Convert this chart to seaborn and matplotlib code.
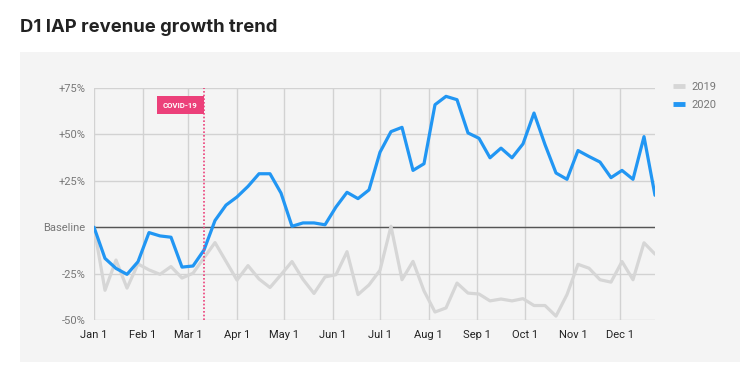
import pandas as pd
import numpy as np
import matplotlib
matplotlib.use('Agg')
import matplotlib.pyplot as plt
import matplotlib.dates as mdates
from matplotlib.lines import Line2D
from matplotlib.patches import Rectangle
import seaborn as sns

# Weekly growth vs baseline, in percent
weeks = pd.date_range('2020-01-01', periods=52, freq='7D')
growth_2019 = [0, -34, -17.7, -32.8, -19.8, -23, -25.4, -21.2, -27.4, -24.8, -16.5, -8.3,
               -18.4, -28.5, -20.7, -27.9, -32.5, -25.6, -18.5, -28.1, -35.7, -26.8, -25.6, -13.2,
               -36.3, -31.1, -23.2, 0.5, -28.3, -18.4, -34.3, -45.7, -43.5, -30.1, -35.5, -36,
               -39.7, -38.7, -39.7, -38.5, -42.2, -42.2, -47.9, -36.3, -20, -22.1, -28.3, -29.6,
               -18.5, -28.3, -8.4, -14.5]
growth_2020 = [0, -16.8, -22.2, -25.4, -18.6, -2.9, -4.7, -5.4, -21.5, -20.9, -12.3, 3.6,
               11.9, 16.3, 22, 28.8, 28.8, 18.4, 0.5, 2.3, 2.3, 1.3, 10.9, 18.8,
               15.4, 20.1, 40.4, 51.5, 53.8, 30.6, 34.2, 66, 70.5, 68.7, 50.8, 47.9,
               37.4, 42.6, 37.4, 44.9, 61.5, 44.5, 29.2, 25.8, 41.3, 38.1, 35.1, 26.7,
               30.6, 25.8, 48.8, 17.2]
years = ['2019', '2020']
colors = {'2019': '#d6d6d6', '2020': '#2196f3'}

month_ticks = pd.date_range('2020-01-01', periods=12, freq='MS')
month_labels = ['Jan 1', 'Feb 1', 'Mar 1', 'Apr 1', 'May 1', 'Jun 1',
                'Jul 1', 'Aug 1', 'Sep 1', 'Oct 1', 'Nov 1', 'Dec 1']
y_ticks = [-50, -25, 0, 25, 50, 75]
y_labels = ['-50%', '-25%', 'Baseline', '+25%', '+50%', '+75%']
covid_date = pd.Timestamp('2020-03-11')

df = pd.DataFrame({
    'date': list(weeks) * 2,
    'growth': growth_2019 + growth_2020,
    'year': ['2019'] * len(weeks) + ['2020'] * len(weeks),
})

sns.set_theme(style='white')
plt.rcParams['font.family'] = ['Roboto', 'DejaVu Sans']

fig = plt.figure(figsize=(7.54, 3.81), dpi=100)
fig.patch.set_facecolor('white')
# grey card behind the chart
card = Rectangle((20 / 754, 1 - 362 / 381), 720 / 754, 310 / 381,
                 transform=fig.transFigure, facecolor='#f4f4f4',
                 edgecolor='none', zorder=-5)
fig.patches.append(card)
fig.text(20 / 754, 1 - 28 / 381, 'D1 IAP revenue growth trend', fontsize=13.3,
         fontweight='bold', color='#222222', family=['Inter', 'DejaVu Sans'],
         va='center', ha='left')

ax = fig.add_axes([94 / 754, 1 - 320 / 381, 561 / 754, 232 / 381])
ax.set_facecolor('none')
ax.set_zorder(2)

sns.lineplot(data=df, x='date', y='growth', hue='year', hue_order=years,
             palette=colors, linewidth=2.3, legend=False, ax=ax)

ax.axhline(0, color='#555555', linewidth=1, zorder=1.5)
ax.axvline(covid_date, color='#ec407a', linestyle=(0, (1, 1.2)), linewidth=1.2, zorder=3)
ax.annotate('COVID-19', xy=(covid_date, 65.8), xytext=(-4.5, 0), textcoords='offset points',
            ha='right', va='center', fontsize=5.6, fontweight='bold', color='white',
            bbox=dict(boxstyle='square,pad=0.75', facecolor='#ec407a', edgecolor='none'),
            zorder=4)

ax.set_xlim(weeks[0], weeks[-1])
ax.set_ylim(-50, 75)
ax.set_xticks(month_ticks)
ax.set_xticklabels(month_labels)
ax.set_yticks(y_ticks)
ax.set_yticklabels(y_labels)
ax.tick_params(axis='x', length=0, pad=7, labelsize=8, labelcolor='#222222')
ax.tick_params(axis='y', length=0, pad=6, labelsize=8, labelcolor='#777777')
ax.grid(True, color='#d2d2d2', linewidth=1)
ax.set_axisbelow(True)
for s in ax.spines.values():
    s.set_visible(False)
ax.set_xlabel('')
ax.set_ylabel('')

handles = [Line2D([0], [0], color=colors[y], linewidth=3.5, solid_capstyle='butt')
           for y in years]
leg = ax.legend(handles, years, loc='upper left', bbox_to_anchor=(1.015, 1.07),
                frameon=False, handlelength=1.0, handletextpad=0.6, fontsize=8,
                labelspacing=0.75)
for t in leg.get_texts():
    t.set_color('#777777')

fig.savefig('out.png', dpi=100)
